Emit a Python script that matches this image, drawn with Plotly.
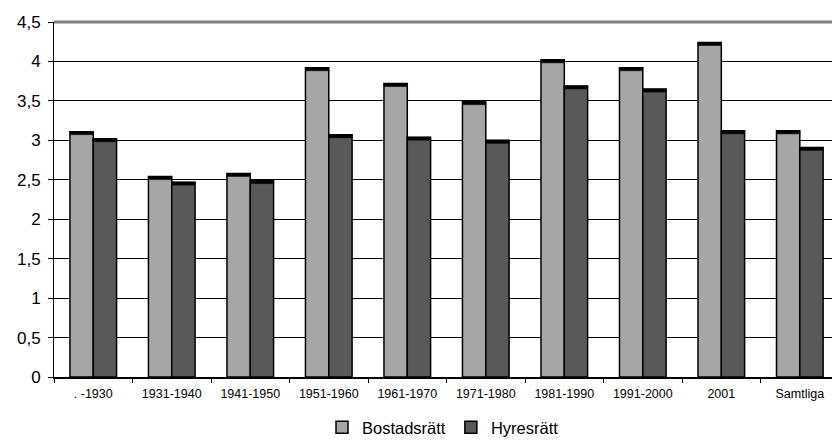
import plotly.graph_objects as go

# Byggnadsperiod och genomsnittliga värden per upplåtelseform
categories = [". -1930", "1931-1940", "1941-1950", "1951-1960", "1961-1970",
              "1971-1980", "1981-1990", "1991-2000", "2001", "Samtliga"]
bostadsratt = [3.11, 2.54, 2.58, 3.92, 3.72, 3.49, 4.02, 3.92, 4.24, 3.12]
hyresratt = [3.02, 2.47, 2.49, 3.07, 3.04, 3.00, 3.69, 3.65, 3.12, 2.91]

y_ticks = [0, 0.5, 1, 1.5, 2, 2.5, 3, 3.5, 4, 4.5]
y_labels = [str(v).replace(".", ",") for v in y_ticks]

LIGHT = "rgb(166,166,166)"
DARK = "rgb(89,89,89)"
BAR_W = 0.297
CAP = 0.038  # thickness of the dark top edge, in axis units

fig = go.Figure()

for name, vals, color, off in [("Bostadsrätt", bostadsratt, LIGHT, -BAR_W),
                               ("Hyresrätt", hyresratt, DARK, 0.0)]:
    fig.add_trace(go.Bar(
        x=categories, y=vals, name=name,
        width=BAR_W, offset=off,
        marker=dict(color=color, line=dict(color="black", width=1.5)),
    ))
    # heavy top edge of each bar
    fig.add_trace(go.Bar(
        x=categories, y=[CAP] * len(vals), base=[v - CAP for v in vals],
        width=BAR_W, offset=off, showlegend=False, hoverinfo="skip",
        marker=dict(color="black", line=dict(color="black", width=0.5)),
    ))

fig.update_layout(
    width=832, height=445,
    margin=dict(l=54, r=0, t=22, b=68),
    barmode="overlay",
    plot_bgcolor="white", paper_bgcolor="white",
    font=dict(family="Liberation Sans, Arial, sans-serif", color="black"),
    showlegend=True,
    legend=dict(
        orientation="h", xref="paper", yref="container",
        x=0.5, xanchor="center", y=0.0, yanchor="bottom",
        font=dict(size=16.5), itemwidth=30, traceorder="normal",
    ),
    xaxis=dict(
        type="category", range=[-0.5, 9.41],
        showline=True, linecolor="black", linewidth=2,
        ticks="outside", tickson="boundaries", ticklen=4, tickcolor="black",
        tickfont=dict(size=12.5), ticklabelstandoff=4, showgrid=False,
    ),
    yaxis=dict(
        range=[0, 4.5], tickvals=y_ticks, ticktext=y_labels,
        showline=True, linecolor="black", linewidth=1,
        ticks="outside", ticklen=5, tickcolor="black",
        tickfont=dict(size=17), ticklabelstandoff=4,
        showgrid=True, gridcolor="black", gridwidth=1,
        zeroline=False,
    ),
    shapes=[dict(type="line", xref="paper", yref="paper", x0=0, x1=1, y0=1, y1=1,
                 line=dict(color="rgb(128,128,128)", width=3))],
)

fig.write_html("out.html")
